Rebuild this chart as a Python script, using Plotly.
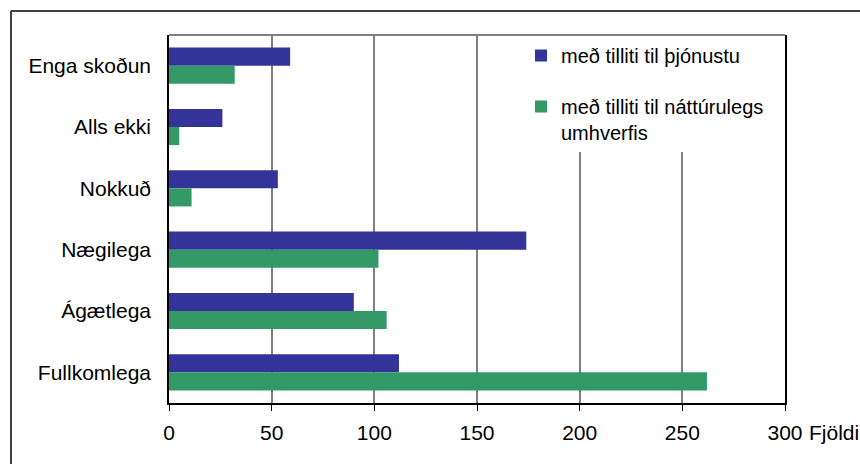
import plotly.graph_objects as go

categories = ["Enga skoðun", "Alls ekki", "Nokkuð", "Nægilega", "Ágætlega", "Fullkomlega"]
service = [59, 26, 53, 174, 90, 112]
nature = [32, 5, 11, 102, 106, 262]
series_names = ["með tilliti til þjónustu", "með tilliti til náttúrulegs<br>umhverfis"]
colors = ["#333399", "#339966"]
x_ticks = [0, 50, 100, 150, 200, 250, 300]

W, H = 860, 464
L, R, T, B = 169, 75, 35, 61
pw, ph = W - L - R, H - T - B

FONT = "Liberation Sans, Arial, sans-serif"
FS = 21

fig = go.Figure()
fig.add_trace(go.Bar(y=categories, x=service, orientation="h", name=series_names[0],
                     marker=dict(color=colors[0], line=dict(width=0)), legendgroup="a"))
fig.add_trace(go.Bar(y=categories, x=nature, orientation="h", name=series_names[1],
                     marker=dict(color=colors[1], line=dict(width=0)), legendgroup="b"))

def px_x(p):
    return (p - L) / pw

def px_y(p):
    return (H - B - p) / ph

fig.update_layout(
    width=W, height=H,
    margin=dict(l=L, r=R, t=T, b=B),
    paper_bgcolor="white", plot_bgcolor="white",
    font=dict(family=FONT, size=FS, color="black"),
    barmode="group", bargap=0.41, bargroupgap=0,
    showlegend=True,
    legend=dict(x=px_x(521), y=px_y(36), xanchor="left", yanchor="top",
                bgcolor="white", borderwidth=0, font=dict(size=FS - 1, family=FONT),
                tracegroupgap=22, valign="top", itemwidth=30),
    xaxis=dict(range=[0, 300], tickvals=x_ticks, showgrid=True, gridcolor="#808080",
               gridwidth=1.5, showline=True, linecolor="black", linewidth=1.5,
               ticks="outside", ticklen=6, tickcolor="black", tickwidth=1,
               ticklabelstandoff=4, zeroline=False, fixedrange=True),
    yaxis=dict(autorange="reversed", showgrid=False, showline=True, linecolor="black",
               linewidth=1.5, mirror=True, ticks="", ticklabelstandoff=12,
               fixedrange=True),
    shapes=[
        dict(type="line", xref="paper", yref="paper", x0=0, x1=1, y0=1, y1=1,
             line=dict(color="#808080", width=2)),
        dict(type="line", xref="paper", yref="paper", x0=px_x(11), x1=px_x(862),
             y0=px_y(11), y1=px_y(11), line=dict(color="#404040", width=2)),
        dict(type="line", xref="paper", yref="paper", x0=px_x(11), x1=px_x(11),
             y0=px_y(11), y1=px_y(466), line=dict(color="#404040", width=2)),
    ],
    annotations=[
        dict(text="Fjöldi", xref="paper", yref="paper", x=px_x(807), y=px_y(432),
             xanchor="left", yanchor="middle", showarrow=False,
             font=dict(size=FS, family=FONT)),
    ],
)

fig.write_html("out.html", config={"displayModeBar": False},
               post_script="document.body.style.margin='0';document.body.style.overflow='hidden';")
